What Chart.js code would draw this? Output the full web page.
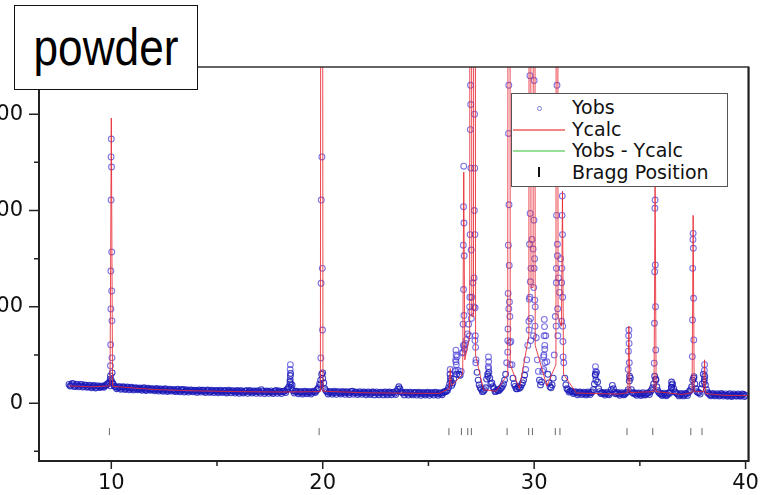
<!DOCTYPE html>
<html>
<head>
<meta charset="utf-8">
<script src="https://cdn.jsdelivr.net/npm/chart.js@4"></script>
<style>
  body { margin: 0; background: #fff; }
  #wrap { position: relative; width: 769px; height: 495px; overflow: hidden; background: #fff; }
  #chart { position: absolute; left: -40px; top: 0; }
  #title { position: absolute; left: 14px; top: 5px; width: 184px; height: 85px; box-sizing: border-box;
    border: 1.5px solid #111; background: #fff; }
  #title span { position: absolute; left: 0; top: 15px; width: 100%; text-align: center;
    font: 52px/1 "Liberation Sans", Arial, sans-serif; color: #000; transform: scaleX(0.85); }
  #legend { position: absolute; left: 511px; top: 93px; width: 217px; height: 94px; box-sizing: border-box;
    border: 1px solid #555; background: #fff; padding-top: 3px; font: 19px "DejaVu Sans", sans-serif; color: #111; }
  #legend .row { position: relative; height: 21.7px; line-height: 21.7px; padding-left: 60px; white-space: nowrap; }
  #legend .line { position: absolute; left: 1px; top: 10px; width: 52px; height: 2px; }
  #legend .dot { position: absolute; left: 25px; top: 8.5px; width: 3px; height: 3px; border: 1px solid #7a7ae0; border-radius: 50%; }
  #legend .tick { position: absolute; left: 26px; top: 5px; width: 2px; height: 10px; background: #111; }
</style>
</head>
<body>
<div id="wrap">
  <canvas id="chart" width="809" height="495"></canvas>
  <div id="title"><span>powder</span></div>
  <div id="legend">
    <div class="row"><span class="dot"></span>Yobs</div>
    <div class="row"><span class="line" style="background:#f38585"></span>Ycalc</div>
    <div class="row"><span class="line" style="background:#98e098"></span>Yobs - Ycalc</div>
    <div class="row"><span class="tick"></span>Bragg Position</div>
  </div>
</div>
<script>
// observed background, 2theta 8.0 .. 40.0 every 0.1 deg
const obsStart = 8;
const obsStep = 0.1;
const obsBackground = [
  195, 185, 200, 180, 190, 178, 192, 175, 185, 172,
  180, 170, 178, 165, 175, 168, 172, 180, 195, 215,
  240, 195, 170, 160, 168, 155, 165, 150, 160, 152,
  158, 148, 155, 150, 145, 152, 140, 150, 142, 148,
  140, 146, 138, 145, 135, 142, 138, 132, 140, 135,
  130, 138, 128, 135, 140, 126, 132, 128, 135, 125,
  132, 124, 130, 135, 122, 128, 132, 120, 128, 125,
  130, 120, 126, 122, 130, 118, 125, 128, 118, 124,
  120, 126, 115, 122, 130, 118, 122, 115, 125, 120,
  118, 140, 120, 115, 122, 118, 112, 120, 132, 118,
  115, 120, 125, 140, 170, 160, 130, 122, 118, 112,
  115, 110, 118, 112, 108, 115, 120, 130, 160, 240,
  260, 150, 118, 110, 115, 108, 112, 118, 106, 112,
  108, 115, 106, 110, 125, 108, 112, 104, 110, 106,
  112, 104, 108, 100, 115, 106, 102, 110, 104, 112,
  100, 108, 104, 110, 102, 125, 170, 120, 105, 110,
  102, 108, 98, 104, 110, 100, 106, 98, 104, 100,
  106, 98, 102, 108, 96, 104, 100, 110, 118, 135,
  200, 185, 250, 430, 340, 290, 520, 560, 660, 820,
  950, 1250, 650, 320, 190, 145, 125, 160, 300, 260,
  210, 150, 125, 130, 150, 175, 240, 420, 980, 640,
  260, 175, 150, 155, 190, 240, 350, 600, 1100, 1700,
  1400, 680, 330, 190, 330, 560, 430, 210, 160, 260,
  900, 1650, 1150, 1250, 420, 190, 140, 125, 118, 112,
  108, 104, 110, 100, 106, 98, 104, 110, 140, 300,
  220, 120, 104, 98, 102, 96, 110, 185, 115, 100,
  96, 100, 94, 98, 115, 230, 140, 100, 94, 98,
  92, 96, 90, 98, 105, 120, 160, 280, 170, 110,
  96, 90, 94, 88, 100, 165, 150, 110, 92, 88,
  92, 86, 95, 110, 140, 240, 200, 120, 110, 150,
  300, 190, 110, 90, 86, 92, 84, 88, 82, 90,
  84, 80, 88, 78, 85, 82, 76, 84, 80, 90,
  82
];
// the steps in between, 8.05 .. 39.95
const obsMidStart = 8.05;
const obsMid = [
  178, 205, 172, 198, 170, 195, 168, 190, 165, 188,
  160, 185, 158, 182, 162, 178, 165, 190, 205, 250,
  210, 175, 150, 172, 145, 170, 142, 168, 140, 165,
  138, 162, 140, 158, 135, 160, 132, 155, 135, 150,
  128, 152, 126, 148, 124, 150, 122, 145, 125, 142,
  120, 145, 118, 142, 116, 140, 115, 138, 118, 136,
  112, 138, 115, 135, 110, 138, 112, 134, 110, 132,
  108, 135, 110, 132, 106, 134, 108, 130, 105, 132,
  104, 130, 106, 128, 103, 132, 105, 128, 102, 130,
  104, 128, 100, 126, 102, 128, 100, 125, 102, 126,
  100, 125, 110, 150, 220, 190, 105, 124, 98, 122,
  96, 124, 98, 122, 95, 125, 110, 145, 200, 300,
  210, 130, 96, 122, 94, 124, 92, 120, 95, 122,
  92, 120, 90, 122, 94, 118, 90, 120, 92, 118,
  88, 118, 90, 116, 86, 118, 88, 115, 86, 118,
  86, 116, 88, 114, 90, 145, 150, 112, 86, 115,
  84, 114, 86, 112, 84, 115, 82, 112, 85, 114,
  82, 112, 84, 114, 82, 110, 88, 120, 125, 160,
  230, 210, 330, 480, 300, 330, 600, 620, 720, 1000,
  1100, 1000, 450, 240, 160, 120, 140, 250, 360, 200,
  170, 120, 140, 135, 160, 200, 300, 650, 900, 400,
  200, 150, 170, 165, 210, 290, 450, 850, 1400, 1600,
  1000, 450, 240, 220, 480, 700, 300, 170, 190, 500,
  1400, 1300, 1500, 800, 260, 150, 115, 128, 100, 120,
  88, 116, 90, 114, 86, 116, 90, 118, 200, 320,
  150, 100, 112, 84, 114, 88, 140, 150, 98, 112,
  82, 110, 86, 108, 140, 260, 110, 108, 82, 106,
  80, 108, 84, 106, 90, 135, 200, 250, 130, 100,
  80, 104, 78, 106, 120, 200, 120, 100, 76, 102,
  76, 102, 80, 125, 170, 260, 150, 110, 95, 200,
  250, 140, 100, 78, 100, 76, 98, 74, 100, 74,
  96, 72, 98, 70, 96, 74, 95, 72, 96, 70
];

// observed points on the sharp peaks
const peakObsX = [
  10.00, 9.99, 10.01, 9.99, 10.02, 9.98, 10.02, 9.98, 10.03, 9.97, 10.03, 9.96, 10.04, 9.96, 10.05, 9.95,
  18.47, 18.46, 18.48, 18.47, 18.46, 18.48,
  19.96, 19.93, 19.98, 19.92, 19.99, 19.91, 20.00, 19.90,
  26.03, 26.02, 26.04,
  26.30, 26.31, 26.29, 26.32, 26.28, 26.33,
  26.67, 26.66, 26.68, 26.65, 26.69, 26.66, 26.68, 26.64, 26.70, 26.63,
  26.99, 27.00, 26.98, 27.01, 26.97, 27.02, 26.96, 27.03, 26.94,
  27.18, 27.19, 27.17, 27.20, 27.16, 27.21, 27.22, 27.23, 27.24,
  27.84, 27.85, 27.83, 27.86, 27.82,
  28.80, 28.79, 28.81, 28.78, 28.82, 28.77, 28.83, 28.76, 28.84, 28.75, 28.86,
  29.80, 29.79, 29.81, 29.78, 29.82, 29.77, 29.83, 29.76, 29.84,
  30.00, 30.01, 29.99, 30.02, 29.98, 30.03, 30.04, 29.97,
  30.48, 30.49, 30.47, 30.50, 30.46, 30.51, 30.45,
  31.08, 31.07, 31.09, 31.06, 31.10, 31.05, 31.11, 31.04, 31.12,
  31.33, 31.32, 31.34, 31.31, 31.35, 31.30, 31.36, 31.37,
  32.90, 32.91, 32.89, 32.92,
  34.48, 34.47, 34.49, 34.46, 34.50, 34.45, 34.51,
  35.72, 35.71, 35.73, 35.70, 35.74, 35.69, 35.75, 35.68, 35.76,
  36.50, 36.51, 36.49,
  37.52, 37.51, 37.53, 37.50, 37.54, 37.49, 37.55, 37.48, 37.56,
  38.06, 38.05, 38.07, 38.04
];
const peakObsY = [
  2742, 2556, 2452, 2109, 1570, 1372, 1165, 979, 855, 606, 471, 388, 315, 284, 211, 180,
  400, 350, 310, 285, 245, 200,
  2556, 2109, 1400, 1245, 760, 470, 315, 190,
  350, 300, 260,
  550, 500, 450, 400, 340, 300,
  2460, 2040, 1870, 1640, 1530, 1180, 910, 820, 600, 530,
  3300, 3100, 2840, 2440, 1750, 1590, 1100, 880, 700,
  3000, 2440, 2000, 1750, 1300, 990, 700, 580, 420,
  480, 430, 380, 320, 280,
  3300, 2800, 2060, 1640, 1430, 1140, 1050, 770, 630, 530, 400,
  3400, 3000, 1970, 1650, 1260, 1080, 880, 760, 650,
  3350, 2700, 1900, 1500, 1200, 1070, 800, 700,
  870, 795, 700, 600, 500, 420, 350,
  3300, 3160, 2500, 1950, 1530, 1250, 980, 800, 700,
  2150, 1950, 1750, 1400, 1100, 850, 640, 480,
  380, 330, 290, 240,
  760, 700, 620, 540, 420, 350, 280,
  2109, 2023, 1435, 1365, 1002, 830, 553, 415, 242,
  220, 190, 160,
  1763, 1700, 1608, 1400, 1089, 864, 657, 484, 276,
  400, 340, 280, 220
];

// calculated profile
const calcX = [
  8.0, 9.0, 9.94, 10.0, 10.06, 12.0, 14.0, 16.0, 18.0,
  19.89, 19.95, 20.01, 22.0, 24.0, 25.5,
  25.98, 26.03, 26.08, 26.62, 26.67, 26.72,
  26.95, 27.0, 27.05, 27.13, 27.18, 27.23, 27.6, 28.2,
  28.75, 28.81, 28.87, 29.3,
  29.75, 29.8, 29.85, 29.95, 30.0, 30.05, 30.6,
  31.03, 31.08, 31.13, 31.29, 31.34, 31.39, 32.0, 34.0,
  34.43, 34.48, 34.53, 35.67, 35.72, 35.77, 37.0,
  37.47, 37.52, 37.57, 38.01, 38.06, 38.11, 39.0, 40.0, 40.2
];
const calcY = [
  180, 170, 180, 2960, 175, 142, 128, 120, 116,
  120, 20000, 125, 108, 104, 102,
  150, 360, 180, 300, 2400, 450,
  700, 20000, 900, 900, 20000, 500, 140, 125,
  300, 20000, 400, 150,
  700, 20000, 1200, 1200, 20000, 600, 180,
  400, 20000, 900, 800, 2200, 300, 105, 95,
  110, 800, 110, 120, 2300, 120, 90,
  110, 1950, 120, 120, 450, 100, 82, 78, 78
];

// difference curve, offset below the visible window
const diffX = [8, 10, 19.95, 27, 30, 35.7, 40];
const diffY = [-1400, -1420, -1300, -1350, -1380, -1410, -1400];

const braggX = [9.91, 19.83, 25.97, 26.56, 26.86, 27.03, 28.72, 29.74, 29.92, 31.0, 31.22, 34.39, 35.61, 37.41, 37.94];
const braggLevel = -295;

const xMajorTicks = [10, 20, 30, 40];
const xMinorTicks = [15, 25, 35];
const yMajorTicks = [0, 1000, 2000, 3000];
const yMinorTicks = [-500, 500, 1500, 2500];

const obsPoints = obsBackground.map((y, i) => ({ x: +(obsStart + i * obsStep).toFixed(2), y }))
  .concat(obsMid.map((y, i) => ({ x: +(obsMidStart + i * obsStep).toFixed(2), y })))
  .concat(peakObsX.map((x, i) => ({ x, y: peakObsY[i] })));
const calcPoints = calcX.map((x, i) => ({ x, y: calcY[i] }));
const diffPoints = diffX.map((x, i) => ({ x, y: diffY[i] }));
const braggPoints = braggX.map(x => ({ x, y: braggLevel }));

// box round the plot and the tick marks
const framePlugin = {
  id: 'frame',
  afterDatasetsDraw(chart) {
    const { ctx, chartArea: a, scales: { x, y } } = chart;
    ctx.save();
    ctx.strokeStyle = '#333';
    ctx.lineWidth = 1.5;
    ctx.strokeRect(a.left, a.top, a.right - a.left, a.bottom - a.top);
    ctx.lineWidth = 2;
    ctx.strokeStyle = '#222';
    ctx.beginPath();
    ctx.moveTo(a.left, a.top);
    ctx.lineTo(a.left, a.bottom);
    ctx.lineTo(a.right, a.bottom);
    ctx.lineTo(a.right, a.top);
    ctx.stroke();
    ctx.lineWidth = 1.5;
    ctx.beginPath();
    xMajorTicks.forEach(v => { const px = x.getPixelForValue(v); ctx.moveTo(px, a.bottom); ctx.lineTo(px, a.bottom + 8); });
    xMinorTicks.forEach(v => { const px = x.getPixelForValue(v); ctx.moveTo(px, a.bottom); ctx.lineTo(px, a.bottom + 5); });
    yMajorTicks.forEach(v => { const py = y.getPixelForValue(v); ctx.moveTo(a.left, py); ctx.lineTo(a.left - 10, py); });
    yMinorTicks.forEach(v => { const py = y.getPixelForValue(v); ctx.moveTo(a.left, py); ctx.lineTo(a.left - 5, py); });
    ctx.stroke();
    ctx.restore();
  }
};

Chart.defaults.font.family = '"DejaVu Sans", sans-serif';

new Chart(document.getElementById('chart'), {
  type: 'scatter',
  data: {
    datasets: [
      {
        label: 'Ycalc',
        data: calcPoints,
        showLine: true,
        borderColor: 'rgba(232, 40, 50, 0.85)',
        borderWidth: 1,
        pointRadius: 0,
        tension: 0
      },
      {
        label: 'Yobs',
        data: obsPoints,
        pointStyle: 'circle',
        pointRadius: 2.9,
        borderWidth: 1.1,
        // the crowded background band reads darker than the lone peak points
        borderColor: c => (c.raw && c.raw.y < 330 ? 'rgba(25, 25, 185, 0.8)' : 'rgba(70, 60, 215, 0.7)'),
        backgroundColor: 'rgba(0, 0, 0, 0)'
      },
      {
        label: 'Yobs - Ycalc',
        data: diffPoints,
        showLine: true,
        borderColor: 'rgba(90, 200, 90, 0.7)',
        borderWidth: 1,
        pointRadius: 0
      },
      {
        label: 'Bragg Position',
        data: braggPoints,
        pointStyle: 'line',
        rotation: 90,
        pointRadius: 3.5,
        borderWidth: 1,
        borderColor: '#666'
      }
    ]
  },
  options: {
    responsive: false,
    animation: false,
    devicePixelRatio: 1,
    layout: { padding: { left: 0, right: 14, top: 67, bottom: 0 } },
    plugins: { legend: { display: false }, tooltip: { enabled: false } },
    scales: {
      x: {
        type: 'linear',
        min: 6.58,
        max: 40.14,
        grid: { display: false, drawTicks: false },
        border: { display: false },
        afterBuildTicks: s => { s.ticks = xMajorTicks.map(v => ({ value: v })); },
        afterFit: s => { s.height = 34; },
        ticks: { padding: 10, color: '#111', font: { size: 21 }, callback: v => String(v) }
      },
      y: {
        type: 'linear',
        min: -600,
        max: 3490,
        grid: { display: false, drawTicks: false },
        border: { display: false },
        afterBuildTicks: s => { s.ticks = yMajorTicks.map(v => ({ value: v })); },
        afterFit: s => { s.width = 79; },
        ticks: { padding: 16, color: '#111', font: { size: 21 }, callback: v => String(v) }
      }
    }
  },
  plugins: [framePlugin]
});
</script>
</body>
</html>
